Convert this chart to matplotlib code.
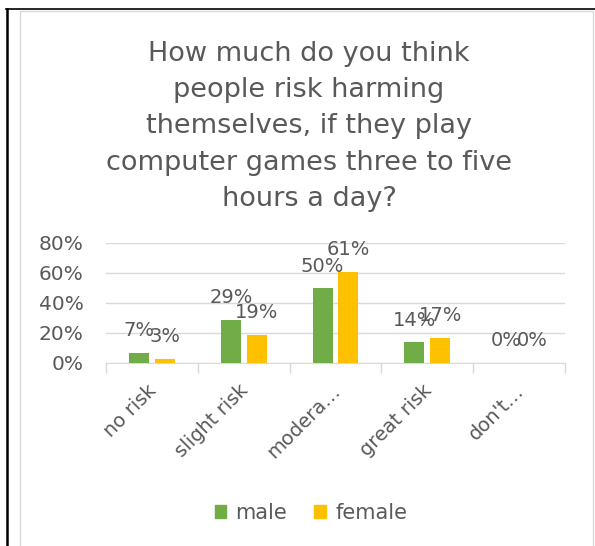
import matplotlib.pyplot as plt
import matplotlib.patches as mpatches
import matplotlib.transforms as mtransforms
from matplotlib.lines import Line2D
import numpy as np

categories = ['no risk', 'slight risk', 'modera…', 'great risk', "don't…"]
male = [7, 29, 50, 14, 0]
female = [3, 19, 61, 17, 0]
y_ticks = [0, 20, 40, 60, 80]

green = '#70AD47'
yellow = '#FFC000'
txt = '#595959'
grid = '#D9D9D9'

plt.rcParams['font.family'] = ['DejaVu Sans']

fig = plt.figure(figsize=(5.95, 5.46), dpi=100)
W, H = 595, 546

# outer borders
fig.add_artist(Line2D([6 / W, 1], [1 - 9 / H, 1 - 9 / H], color='black', lw=1.2))
fig.add_artist(Line2D([6.5 / W, 6.5 / W], [0, 1 - 9 / H], color='black', lw=1.8))
fig.add_artist(mpatches.Rectangle((20 / W, -0.01), (593 - 20) / W, 1 - 11 / H + 0.01,
                                  transform=fig.transFigure, fill=False,
                                  edgecolor=grid, lw=1.0))

fig.text(309 / W, 1 - 41 / H,
         'How much do you think\npeople risk harming\nthemselves, if they play\n'
         'computer games three to five\nhours a day?',
         ha='center', va='top', fontsize=19.5, color=txt, linespacing=1.51)

ax = fig.add_axes([106 / W, 1 - 363 / H, (565 - 106) / W, 120 / H])

x = np.arange(len(categories))
bw = 0.217
off = 0.14
b1 = ax.bar(x - off, male, bw, color=green, label='male', zorder=3)
b2 = ax.bar(x + off, female, bw, color=yellow, label='female', zorder=3)

for bars, vals in ((b1, male), (b2, female)):
    for b, v in zip(bars, vals):
        ax.annotate(f'{v}%', (b.get_x() + b.get_width() / 2, v),
                    xytext=(0, 9), textcoords='offset points',
                    ha='center', va='bottom', fontsize=14, color=txt,
                    annotation_clip=False, zorder=4)

ax.set_xlim(-0.5, len(categories) - 0.5)
ax.set_ylim(0, 80)
ax.set_yticks(y_ticks)
ax.set_yticklabels([f'{t}%' for t in y_ticks], fontsize=14.5, color=txt)
ax.yaxis.grid(True, color=grid, lw=1.0, zorder=0)
ax.tick_params(axis='y', length=0, pad=16)

ax.set_xticks(x)
ax.set_xticklabels(categories, rotation=45, ha='right', va='top',
                   rotation_mode='anchor', fontsize=14, color=txt)
ax.tick_params(axis='x', which='major', length=0, pad=13)
shift = mtransforms.ScaledTranslation(-5 / 100, 0, fig.dpi_scale_trans)
for lab in ax.get_xticklabels():
    lab.set_transform(lab.get_transform() + shift)
ax.set_xticks(np.arange(-0.5, len(categories)), minor=True)
ax.tick_params(axis='x', which='minor', length=7, color=grid, width=1.0)

for s in ('top', 'right', 'left'):
    ax.spines[s].set_visible(False)
ax.spines['bottom'].set_color(grid)

handles = [mpatches.Patch(color=green, label='male'),
           mpatches.Patch(color=yellow, label='female')]
fig.legend(handles=handles, loc='center', bbox_to_anchor=(311 / W, 1 - 513 / H),
           ncol=2, frameon=False, fontsize=15, handlelength=0.55, handleheight=0.55,
           handletextpad=0.45, columnspacing=1.3, labelcolor=txt)

fig.savefig('out.png', dpi=100)
